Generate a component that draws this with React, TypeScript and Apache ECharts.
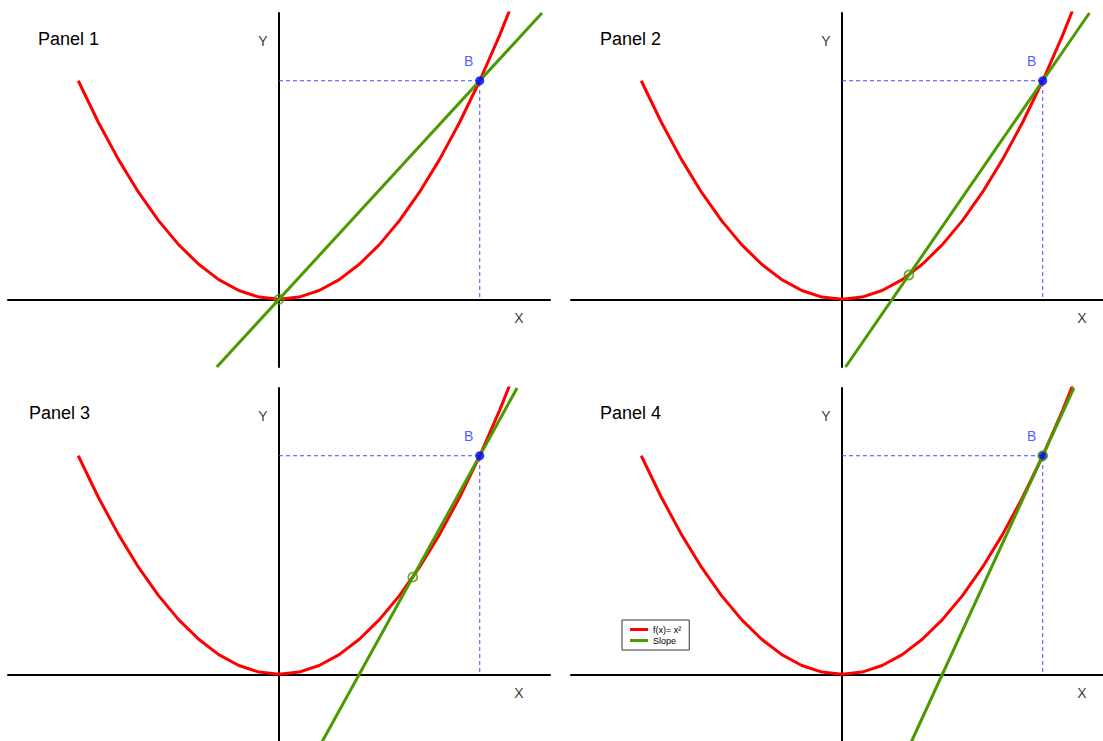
import React, { useEffect, useRef } from "react";
import * as echarts from "echarts";

// f(x) = x^2 sampled points (as drawn)
const curveX = [-2, -1.8, -1.6, -1.4, -1.2, -1, -0.8, -0.6, -0.4, -0.2, 0, 0.2, 0.4, 0.6, 0.8, 1, 1.2, 1.4, 1.6, 1.8, 2, 2.2, 2.4];
const curveY = [4, 3.24, 2.56, 1.96, 1.44, 1, 0.64, 0.36, 0.16, 0.04, 0, 0.04, 0.16, 0.36, 0.64, 1, 1.44, 1.96, 2.56, 3.24, 4, 4.84, 5.76];

// Point B
const pointB = [2, 4];
// Second point of each secant (panel 4: tangent at B)
const pointAX = [0, 0.667, 1.333, 2];
const pointAY = [0, 0.444, 1.778, 4];
// Slope of the green line in each panel
const slopes = [2, 2.667, 3.333, 4];

const panelTitles = ["Panel 1", "Panel 2", "Panel 3", "Panel 4"];
const titlePos = [
  [38, 40],
  [600, 40],
  [29, 414],
  [600, 414],
];

const X_MIN = -2.7, X_MAX = 2.7, Y_MIN = -1.24, Y_MAX = 5.24;
const RED = "#ff0000";
const GREEN = "#4a9a00";
const BLUE = "#0000ff";
const FONT = "'Liberation Sans', Arial, sans-serif";

export default function App() {
  const ref = useRef<HTMLDivElement>(null);
  useEffect(() => {
    const chart = echarts.init(ref.current!, undefined, { renderer: "svg" });
    const grids: any[] = [];
    const xAxes: any[] = [];
    const yAxes: any[] = [];
    const series: any[] = [];
    const curveData = curveX.map((x, i) => [x, curveY[i]]);
    for (let p = 0; p < 4; p++) {
      const col = p % 2, row = Math.floor(p / 2);
      grids.push({ left: 8 + col * 563, top: 13 + row * 375, width: 542, height: 354 });
      const axisCommon = {
        axisLine: { show: true, onZero: true, lineStyle: { color: "#000", width: 2 } },
        axisTick: { show: false },
        axisLabel: { show: false },
        splitLine: { show: false },
      };
      xAxes.push({ type: "value", gridIndex: p, min: X_MIN, max: X_MAX, ...axisCommon });
      yAxes.push({ type: "value", gridIndex: p, min: Y_MIN, max: Y_MAX, ...axisCommon });
      const last = p === 3;
      series.push({
        type: "line",
        name: last ? "f(x)= x²" : "curve" + p,
        xAxisIndex: p, yAxisIndex: p,
        data: curveData,
        showSymbol: false, symbol: "none",
        lineStyle: { color: RED, width: 3 },
        itemStyle: { color: RED },
        clip: true, z: 3,
      });
      series.push({
        type: "line",
        name: "guide" + p,
        xAxisIndex: p, yAxisIndex: p,
        data: [[0, pointB[1]], [pointB[0], pointB[1]], [pointB[0], 0]],
        showSymbol: false, symbol: "none",
        lineStyle: { color: "#4848ff", width: 1, type: [4, 3] },
        itemStyle: { color: "#4848ff" },
        z: 2,
      });
      const m = slopes[p];
      const x0 = pointB[0] + (Y_MIN - pointB[1]) / m;
      const x1 = pointB[0] + (Y_MAX - pointB[1]) / m;
      series.push({
        type: "line",
        name: last ? "Slope" : "slope" + p,
        xAxisIndex: p, yAxisIndex: p,
        data: [[x0, Y_MIN], [x1, Y_MAX]],
        showSymbol: false, symbol: "none",
        lineStyle: { color: GREEN, width: 3 },
        itemStyle: { color: GREEN },
        clip: true, z: 4,
      });
      series.push({
        type: "scatter",
        name: "B" + p,
        xAxisIndex: p, yAxisIndex: p,
        data: [pointB],
        symbolSize: 9,
        itemStyle: { color: BLUE },
        z: 5,
      });
      series.push({
        type: "scatter",
        name: "A" + p,
        xAxisIndex: p, yAxisIndex: p,
        data: [[pointAX[p], pointAY[p]]],
        symbolSize: 9,
        itemStyle: { color: "rgba(0,0,0,0)", borderColor: GREEN, borderWidth: 1.8 },
        z: 6,
      });
      series.push({
        type: "scatter",
        name: "labels" + p,
        xAxisIndex: p, yAxisIndex: p,
        symbolSize: 0,
        silent: true,
        itemStyle: { color: "#000" },
        data: [
          { value: [1.89, 4.36], label: { formatter: "B", color: "#2233ff" } },
          { value: [2.39, -0.35], label: { formatter: "X", color: "#000" } },
          { value: [-0.16, 4.72], label: { formatter: "Y", color: "#000" } },
        ],
        label: {
          show: true, position: "inside", fontSize: 14, fontFamily: FONT,
          textBorderWidth: 0, textBorderColor: "transparent",
        },
        z: 7,
      });
    }
    const graphic = panelTitles.map((t, i) => ({
      type: "text",
      left: titlePos[i][0],
      top: titlePos[i][1] - 10,
      style: { text: t, fontSize: 18, fontFamily: FONT, fill: "#000" },
    }));
    chart.setOption({
      animation: false,
      backgroundColor: "#fff",
      grid: grids,
      xAxis: xAxes,
      yAxis: yAxes,
      series,
      graphic,
      legend: {
        data: [
          { name: "f(x)= x²", icon: "rect", itemStyle: { color: RED } },
          { name: "Slope", icon: "rect", itemStyle: { color: GREEN } },
        ],
        orient: "vertical",
        left: 622,
        top: 620,
        padding: [5, 8, 5, 8],
        itemWidth: 18,
        itemHeight: 3,
        itemGap: 2,
        borderColor: "#333",
        borderWidth: 1,
        backgroundColor: "#fff",
        textStyle: { fontSize: 9, fontFamily: FONT, color: "#000" },
      },
    });
    return () => chart.dispose();
  }, []);
  return (
    <div
      ref={ref}
      style={{ position: "fixed", left: 0, top: 0, width: 1125, height: 760 }}
    />
  );
}
